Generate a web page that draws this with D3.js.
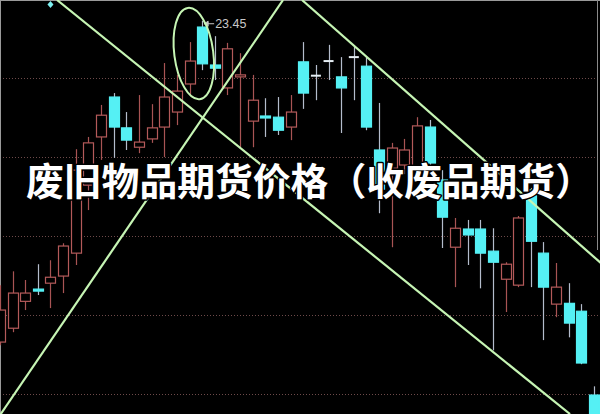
<!DOCTYPE html>
<html><head><meta charset="utf-8">
<script src="https://cdn.jsdelivr.net/npm/d3@7"></script>
<style>html,body{margin:0;padding:0;background:#000;overflow:hidden}svg{display:block}</style>
</head><body><svg id="c" width="600" height="414"></svg>
<script>
// ---- data ----
const days = d3.range(1, 49).map(d => "D" + d);
const opens  = [15.32,15.67,16.35,16.66,16.81,16.99,17.57,19.29,20.51,21.52,20.74,20.25,20.46,20.76,21.14,21.85,23.29,22.33,21.75,22.05,20.91,21.04,21.01,20.76,22.41,22.06,22.43,22.03,22.53,22.30,20.18,19.72,19.80,19.72,20.76,19.42,17.72,18.18,18.18,17.62,16.91,16.76,19.17,17.57,16.28,16.30,16.10,13.98];
const closes = [16.13,16.56,16.56,16.62,16.96,17.75,19.67,20.36,21.06,20.76,20.43,20.38,20.74,21.52,21.67,22.43,22.36,22.25,22.74,22.08,21.44,20.99,20.68,21.14,21.62,22.06,22.43,21.75,22.53,20.76,19.19,20.23,20.18,20.79,19.85,18.48,18.20,18.03,17.57,17.34,17.29,18.46,17.87,16.71,16.71,15.80,14.79,13.30];
const highs  = [16.76,17.11,16.89,17.29,17.39,17.82,20.20,20.51,21.32,21.62,21.14,21.57,21.34,22.38,22.08,22.91,23.45,23.06,22.89,22.63,22.08,21.49,21.52,21.57,22.91,22.33,22.84,22.53,22.79,22.53,21.37,20.36,20.46,21.01,20.94,19.67,18.46,18.41,18.41,18.20,17.34,18.51,19.22,17.85,17.32,16.81,16.28,14.20];
const lows   = [15.24,15.57,16.13,16.51,16.18,16.56,17.27,18.66,19.93,19.98,20.18,20.10,20.36,20.00,20.81,21.57,22.20,21.95,21.57,20.25,20.25,20.51,20.56,20.43,21.22,21.44,21.95,20.61,21.44,20.68,18.58,17.72,19.57,19.62,19.67,17.70,16.71,17.27,16.68,15.11,16.08,16.71,16.71,15.37,15.95,15.44,14.76,13.30];
const gridPrices = [22, 20, 18, 16, 14];
const peakLabel = "23.45";
// trend lines: [dayIndex, price] endpoints
const trendLines = [
  [[4.52, 23.975], [45.1, 13.5]],
  [[-1, 13.0], [22.4, 23.975]],
  [[23.9, 23.975], [48.5, 17.05]]
];
const ellipseCenter = [15.34, 22.62];
const title = "废旧物品期货价格（收废品期货）";

// ---- drawing ----
const W = 600, H = 414;
const svg = d3.select("#c");
svg.append("rect").attr("width", W).attr("height", H).attr("fill", "#000");

const x = d3.scalePoint().domain(days).range([-0.1, 594]);
const xi = d3.scaleLinear().domain([0, 47]).range([-0.1, 594]);
const y = d3.scaleLinear().domain([13.5, 23.975]).range([H, 0]);

svg.append("defs").append("clipPath").attr("id", "clip")
  .append("rect").attr("width", W).attr("height", H);

// dotted grid
svg.append("g").selectAll("line").data(gridPrices).join("line")
  .attr("x1", 0).attr("x2", W)
  .attr("y1", d => Math.round(y(d)) + 0.5).attr("y2", d => Math.round(y(d)) + 0.5)
  .attr("stroke", "#6e4a4a").attr("stroke-width", 1).attr("stroke-dasharray", "1,2");

// frame edges
svg.append("line").attr("x1", 0.5).attr("x2", 0.5).attr("y1", 0).attr("y2", H).attr("stroke", "#9a9a9a");
svg.append("line").attr("x1", 0).attr("x2", W).attr("y1", 0.5).attr("y2", 0.5).attr("stroke", "#9a9a9a");
svg.append("line").attr("x1", 597.5).attr("x2", 597.5).attr("y1", 0).attr("y2", 250).attr("stroke", "#8a8a8a");

const data = days.map((d, i) => ({ d, o: opens[i], c: closes[i], h: highs[i], l: lows[i] }));
const bw = 10;
const g = svg.append("g").attr("clip-path", "url(#clip)");
const up = d => d.c > d.o, flat = d => d.c === d.o;

g.selectAll("line.wick").data(data).join("line").attr("class", "wick")
  .attr("x1", d => Math.round(x(d.d)) + 0.5).attr("x2", d => Math.round(x(d.d)) + 0.5)
  .attr("y1", d => y(d.h)).attr("y2", d => y(d.l))
  .attr("stroke", d => up(d) ? "#a85454" : "#b4bccc").attr("stroke-width", 1.2);

g.selectAll("rect.body").data(data.filter(d => !flat(d))).join("rect").attr("class", "body")
  .attr("x", d => Math.round(x(d.d) - bw / 2) + 0.5)
  .attr("y", d => y(Math.max(d.o, d.c)))
  .attr("width", bw)
  .attr("height", d => Math.max(2, Math.abs(y(d.o) - y(d.c))))
  .attr("fill", d => up(d) ? "#000" : "#55f0f4")
  .attr("stroke", d => up(d) ? "#b45a5a" : "#55f0f4").attr("stroke-width", 1.2);

g.selectAll("line.flat").data(data.filter(flat)).join("line").attr("class", "flat")
  .attr("x1", d => x(d.d) - bw / 2).attr("x2", d => x(d.d) + bw / 2)
  .attr("y1", d => y(d.o)).attr("y2", d => y(d.o))
  .attr("stroke", "#e6eef4").attr("stroke-width", 2);

// peak label
const pk = data[highs.indexOf(d3.max(highs))];
const px = x(pk.d), py = y(pk.h);
svg.append("path").attr("d", `M${px + 2},${py + 3}l4,-2.5v5z M${px + 5},${py + 3}h7`)
  .attr("stroke", "#c8c8c8").attr("fill", "#c8c8c8").attr("stroke-width", 1);
svg.append("text").attr("x", px + 13).attr("y", py + 7.5).text(peakLabel)
  .attr("fill", "#c8c8c8").attr("font-family", "Liberation Sans, Arial, sans-serif").attr("font-size", 12.5);

// small marker at top
svg.append("path").attr("d", `M${x(days[4])},1l3,3.5l-3,3.5l-3,-3.5z`).attr("fill", "#7ef0f0");

// trend lines
const lg = svg.append("g").attr("clip-path", "url(#clip)");
lg.selectAll("line").data(trendLines).join("line")
  .attr("x1", d => xi(d[0][0])).attr("y1", d => y(d[0][1]))
  .attr("x2", d => xi(d[1][0])).attr("y2", d => y(d[1][1]))
  .attr("stroke", "#c6f5b4").attr("stroke-width", 2.2);

const ecx = xi(ellipseCenter[0]), ecy = y(ellipseCenter[1]);
lg.append("ellipse").attr("cx", ecx).attr("cy", ecy).attr("rx", 19.5).attr("ry", 46)
  .attr("transform", `rotate(-7.5 ${ecx} ${ecy})`)
  .attr("fill", "none").attr("stroke", "#c6f5b4").attr("stroke-width", 2);

// title
svg.append("text").attr("x", 26).attr("y", 178).attr("dominant-baseline", "central")
  .text(title)
  .attr("font-family", "'Noto Sans CJK SC', sans-serif").attr("font-weight", 700)
  .attr("font-size", 37.8).attr("fill", "#fff")
  .attr("stroke", "#000").attr("stroke-width", 3).attr("paint-order", "stroke")
  .attr("stroke-linejoin", "round");
</script>
</body></html>
